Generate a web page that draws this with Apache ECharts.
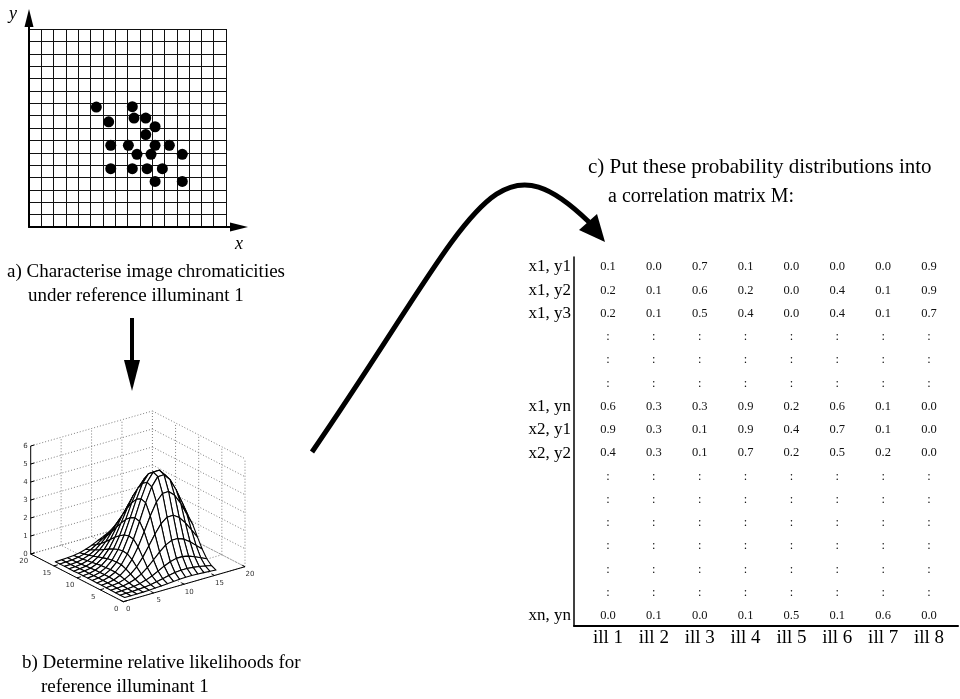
<!DOCTYPE html>
<html><head><meta charset="utf-8">
<script src="https://cdn.jsdelivr.net/npm/echarts@6/dist/echarts.min.js"></script>
<style>html,body{margin:0;padding:0;background:#fff;}#c{width:960px;height:699px;}</style>
</head><body><div id="c"></div>
<script>
// ---------------- data ----------------
// (a) chromaticities observed, in grid-cell units (16 x 16 grid)
const chromCells = 16;
const dotsX = [5.47, 8.39, 6.47, 8.53, 9.48, 10.24, 9.48, 6.64, 8.07, 10.24, 11.40, 8.77, 9.91, 12.45, 6.64, 8.39, 9.59, 10.83, 10.24, 12.45];
const dotsY = [9.69, 9.72, 8.50, 8.80, 8.80, 8.10, 7.47, 6.60, 6.60, 6.60, 6.60, 5.87, 5.87, 5.87, 4.71, 4.71, 4.71, 4.71, 3.68, 3.68];

// (b) likelihood surface, rows = second index 1..16, columns = first index 1..16
const surfaceZ = [
  [0.00,0.00,0.00,0.01,0.02,0.04,0.06,0.09,0.12,0.14,0.16,0.16,0.14,0.12,0.10,0.07],
  [0.00,0.01,0.01,0.03,0.05,0.10,0.16,0.23,0.31,0.38,0.41,0.41,0.38,0.33,0.26,0.19],
  [0.00,0.01,0.03,0.06,0.12,0.22,0.35,0.52,0.70,0.85,0.94,0.94,0.87,0.74,0.59,0.43],
  [0.01,0.02,0.05,0.12,0.23,0.42,0.68,1.01,1.35,1.64,1.81,1.81,1.68,1.44,1.14,0.84],
  [0.01,0.04,0.09,0.19,0.38,0.68,1.12,1.65,2.21,2.69,2.96,2.97,2.75,2.36,1.87,1.37],
  [0.02,0.05,0.12,0.27,0.53,0.96,1.56,2.31,3.09,3.76,4.15,4.16,3.85,3.30,2.61,1.92],
  [0.02,0.06,0.15,0.32,0.64,1.14,1.86,2.75,3.69,4.48,4.95,4.96,4.59,3.93,3.12,2.29],
  [0.02,0.06,0.15,0.33,0.65,1.17,1.91,2.82,3.78,4.60,5.07,5.08,4.70,4.03,3.20,2.35],
  [0.02,0.06,0.14,0.31,0.62,1.12,1.83,2.70,3.62,4.40,4.85,4.86,4.50,3.86,3.06,2.25],
  [0.02,0.05,0.13,0.29,0.57,1.02,1.66,2.46,3.29,4.00,4.41,4.42,4.09,3.51,2.78,2.05],
  [0.02,0.05,0.11,0.25,0.49,0.88,1.44,2.13,2.85,3.47,3.83,3.83,3.55,3.04,2.41,1.77],
  [0.01,0.04,0.09,0.20,0.41,0.73,1.19,1.76,2.35,2.86,3.15,3.16,2.93,2.51,1.99,1.46],
  [0.01,0.03,0.07,0.16,0.32,0.57,0.93,1.38,1.85,2.25,2.48,2.48,2.30,1.97,1.56,1.15],
  [0.01,0.02,0.05,0.12,0.24,0.43,0.70,1.03,1.38,1.68,1.85,1.86,1.72,1.47,1.17,0.86],
  [0.01,0.02,0.04,0.09,0.17,0.30,0.50,0.73,0.98,1.20,1.32,1.32,1.22,1.05,0.83,0.61],
  [0.00,0.01,0.03,0.06,0.11,0.21,0.34,0.50,0.66,0.81,0.89,0.89,0.83,0.71,0.56,0.41]
];
const zTicks = [0, 1, 2, 3, 4, 5, 6];
const planeTicks = [0, 5, 10, 15, 20];

// (c) correlation matrix
const illuminants = ['ill 1','ill 2','ill 3','ill 4','ill 5','ill 6','ill 7','ill 8'];
const rowLabels = ['x1, y1','x1, y2','x1, y3','','','','x1, yn','x2, y1','x2, y2','','','','','','','xn, yn'];
const m_x1y1 = [0.1,0.0,0.7,0.1,0.0,0.0,0.0,0.9];
const m_x1y2 = [0.2,0.1,0.6,0.2,0.0,0.4,0.1,0.9];
const m_x1y3 = [0.2,0.1,0.5,0.4,0.0,0.4,0.1,0.7];
const m_x1yn = [0.6,0.3,0.3,0.9,0.2,0.6,0.1,0.0];
const m_x2y1 = [0.9,0.3,0.1,0.9,0.4,0.7,0.1,0.0];
const m_x2y2 = [0.4,0.3,0.1,0.7,0.2,0.5,0.2,0.0];
const m_xnyn = [0.0,0.1,0.0,0.1,0.5,0.1,0.6,0.0];
const matrixRows = [m_x1y1, m_x1y2, m_x1y3, null, null, null, m_x1yn, m_x2y1, m_x2y2, null, null, null, null, null, null, m_xnyn];

// ---------------- helpers ----------------
const SERIF = '"Liberation Serif", "Times New Roman", serif';
// oblique projection of (u, v, z) into the 2-D plane of the surface grid
function proj(u, v, z) { return [u * 6.085 - v * 4.63, u * 1.75 + v * 2.385 + z * 18]; }

const dotsData = dotsX.map((x, i) => [x, dotsY[i]]);

const nU = surfaceZ[0].length, nV = surfaceZ.length;
const cells = [];
for (let j = 0; j < nV - 1; j++) for (let i = 0; i < nU - 1; i++) cells.push([i, j]);
cells.sort((a, b) => (4.63 * b[0] + 6.085 * b[1]) - (4.63 * a[0] + 6.085 * a[1]));

const zTop = zTicks[zTicks.length - 1], uvMax = planeTicks[planeTicks.length - 1];
const walls = [];
zTicks.forEach(z => { walls.push([0, uvMax, z, uvMax, uvMax, z]); walls.push([uvMax, uvMax, z, uvMax, 0, z]); });
planeTicks.forEach(t => {
  if (t > 0) walls.push([t, uvMax, 0, t, uvMax, zTop]);
  if (t < uvMax) walls.push([uvMax, t, 0, uvMax, t, zTop]);
  walls.push([t, 0, 0, t, uvMax, 0]);
  walls.push([0, t, 0, uvMax, t, 0]);
});
const axesSeg = [[0, 0, 0, 0, uvMax, 0], [0, 0, 0, uvMax, 0, 0], [0, uvMax, 0, 0, uvMax, zTop]];
zTicks.forEach(z => axesSeg.push([0, uvMax, z, 0.6, uvMax, z]));
planeTicks.forEach(t => { axesSeg.push([0, t, 0, 0.6, t, 0]); axesSeg.push([t, 0, 0, t, 0.6, 0]); });
const axisLabels = [];
zTicks.forEach(z => axisLabels.push([0, uvMax, z, z, 0]));
planeTicks.forEach(t => { axisLabels.push([0, t, 0, t, 1]); axisLabels.push([t, 0, 0, t, 2]); });

const matData = [], matText = [];
matrixRows.forEach((row, r) => {
  illuminants.forEach((_, c) => { matData.push([c, r]); matText.push(row ? row[c].toFixed(1) : ':'); });
});
const rowLabelIdx = rowLabels.map((l, i) => l ? i : -1).filter(i => i >= 0);

function segItem(api, style) {
  const p1 = api.coord(proj(api.value(0), api.value(1), api.value(2)));
  const p2 = api.coord(proj(api.value(3), api.value(4), api.value(5)));
  return { type: 'line', shape: { x1: p1[0], y1: p1[1], x2: p2[0], y2: p2[1] }, style: style };
}

const hiddenAxis = { show: false };
const option = {
  animation: false,
  backgroundColor: '#fff',
  grid: [
    { left: 29, top: 29, width: 197, height: 198 },
    { left: 29, top: 18, width: 210, height: 209 },
    { left: 23.3, top: 401.7, width: 230, height: 210 },
    { left: 574, top: 257, width: 384, height: 369 }
  ],
  xAxis: [
    { gridIndex: 0, type: 'value', min: 0, max: chromCells, interval: 1, axisLine: { show: false }, axisTick: { show: false }, axisLabel: { show: false },
      splitLine: { show: true, lineStyle: { color: '#111', width: 1 } } },
    { gridIndex: 1, type: 'value', min: 0, max: 1, axisLine: { show: true, onZero: false, symbol: ['none', 'triangle'], symbolSize: [9, 18], lineStyle: { color: '#000', width: 2 } },
      axisTick: { show: false }, axisLabel: { show: false }, splitLine: { show: false } },
    Object.assign({ gridIndex: 2, type: 'value', min: -100, max: 130 }, hiddenAxis),
    { gridIndex: 3, type: 'value', min: -0.741, max: 7.632, axisLine: { show: true, onZero: false, lineStyle: { color: '#000', width: 2 } },
      axisTick: { show: false }, splitLine: { show: false },
      axisLabel: { customValues: illuminants.map((_, i) => i), formatter: v => illuminants[Math.round(v)], fontFamily: SERIF, fontSize: 19, color: '#000', margin: 3 } }
  ],
  yAxis: [
    { gridIndex: 0, type: 'value', min: 0, max: chromCells, interval: 1, axisLine: { show: false }, axisTick: { show: false }, axisLabel: { show: false },
      splitLine: { show: true, lineStyle: { color: '#111', width: 1 } } },
    { gridIndex: 1, type: 'value', min: 0, max: 1, axisLine: { show: true, onZero: false, symbol: ['none', 'triangle'], symbolSize: [9, 18], lineStyle: { color: '#000', width: 2 } },
      axisTick: { show: false }, axisLabel: { show: false }, splitLine: { show: false } },
    Object.assign({ gridIndex: 2, type: 'value', min: -10, max: 200 }, hiddenAxis),
    { gridIndex: 3, type: 'value', inverse: true, min: -0.43, max: 15.43, axisLine: { show: true, onZero: false, lineStyle: { color: '#000', width: 1.5 } },
      axisTick: { show: false }, splitLine: { show: false },
      axisLabel: { customValues: rowLabelIdx, formatter: v => rowLabels[Math.round(v)], fontFamily: SERIF, fontSize: 17, color: '#000', margin: 3 } }
  ],
  series: [
    { type: 'scatter', xAxisIndex: 0, yAxisIndex: 0, data: dotsData, symbolSize: 11, itemStyle: { color: '#000', opacity: 1 }, silent: true },
    { type: 'custom', xAxisIndex: 2, yAxisIndex: 2, clip: false, data: walls, silent: true,
      renderItem: (p, api) => segItem(api, { stroke: '#707070', lineWidth: 0.9, lineDash: [1, 2] }) },
    { type: 'custom', xAxisIndex: 2, yAxisIndex: 2, clip: false, data: cells, silent: true,
      renderItem: (p, api) => {
        const i = api.value(0), j = api.value(1);
        const pts = [[i, j], [i + 1, j], [i + 1, j + 1], [i, j + 1]].map(c => api.coord(proj(c[0] + 1, c[1] + 1, surfaceZ[c[1]][c[0]])));
        return { type: 'polygon', shape: { points: pts }, style: { fill: '#fff', stroke: '#000', lineWidth: 1.1, lineJoin: 'round' } };
      } },
    { type: 'custom', xAxisIndex: 2, yAxisIndex: 2, clip: false, data: axesSeg, silent: true,
      renderItem: (p, api) => segItem(api, { stroke: '#000', lineWidth: 1 }) },
    { type: 'custom', xAxisIndex: 2, yAxisIndex: 2, clip: false, data: axisLabels, silent: true,
      renderItem: (p, api) => {
        const kind = api.value(4);
        const pt = api.coord(proj(api.value(0), api.value(1), api.value(2)));
        const off = kind === 0 ? [-3, 0] : (kind === 1 ? [-7, 7] : [5, 7.5]);
        return { type: 'text', x: pt[0] + off[0], y: pt[1] + off[1],
          style: { text: String(api.value(3)), font: '7px "DejaVu Sans", sans-serif', fill: '#333', align: kind === 0 ? 'right' : 'center', verticalAlign: 'middle' } };
      } },
    { type: 'custom', xAxisIndex: 3, yAxisIndex: 3, clip: false, data: matData, silent: true,
      renderItem: (p, api) => {
        const pt = api.coord([api.value(0), api.value(1)]);
        return { type: 'text', x: pt[0], y: pt[1], style: { text: matText[p.dataIndex], font: '12.5px ' + SERIF, fill: '#111', align: 'center', verticalAlign: 'middle' } };
      } }
  ],
  graphic: [
    { type: 'text', left: 9, top: 5, style: { text: 'y', font: 'italic 18px ' + SERIF, fill: '#000' } },
    { type: 'text', left: 235, top: 235, style: { text: 'x', font: 'italic 18px ' + SERIF, fill: '#000' } },
    { type: 'text', x: 7, y: 272, style: { text: 'a) Characterise image chromaticities', font: '19px ' + SERIF, fill: '#000', verticalAlign: 'middle' } },
    { type: 'text', x: 28, y: 296, style: { text: 'under reference illuminant 1', font: '19px ' + SERIF, fill: '#000', verticalAlign: 'middle' } },
    { type: 'text', x: 22, y: 663, style: { text: 'b) Determine relative likelihoods for', font: '19px ' + SERIF, fill: '#000', verticalAlign: 'middle' } },
    { type: 'text', x: 41, y: 687, style: { text: 'reference illuminant 1', font: '19px ' + SERIF, fill: '#000', verticalAlign: 'middle' } },
    { type: 'text', x: 588, y: 167, style: { text: 'c) Put these probability distributions into', font: '21px ' + SERIF, fill: '#000', verticalAlign: 'middle' } },
    { type: 'text', x: 608, y: 197, style: { text: 'a correlation matrix M:', font: '20px ' + SERIF, fill: '#000', verticalAlign: 'middle' } },
    { type: 'rect', shape: { x: 130, y: 318, width: 4, height: 44 }, style: { fill: '#000' } },
    { type: 'polygon', shape: { points: [[124, 360], [140, 360], [132, 391]] }, style: { fill: '#000' } },
    { type: 'bezierCurve', shape: { x1: 312, y1: 452, cpx1: 475, cpy1: 215, cpx2: 492, cpy2: 128, x2: 589, y2: 222 }, style: { stroke: '#000', lineWidth: 5, fill: null } },
    { type: 'polygon', shape: { points: [[579, 230], [597, 214], [605, 242]] }, style: { fill: '#000' } }
  ]
};
const chart = echarts.init(document.getElementById('c'));
chart.setOption(option);
</script></body></html>
